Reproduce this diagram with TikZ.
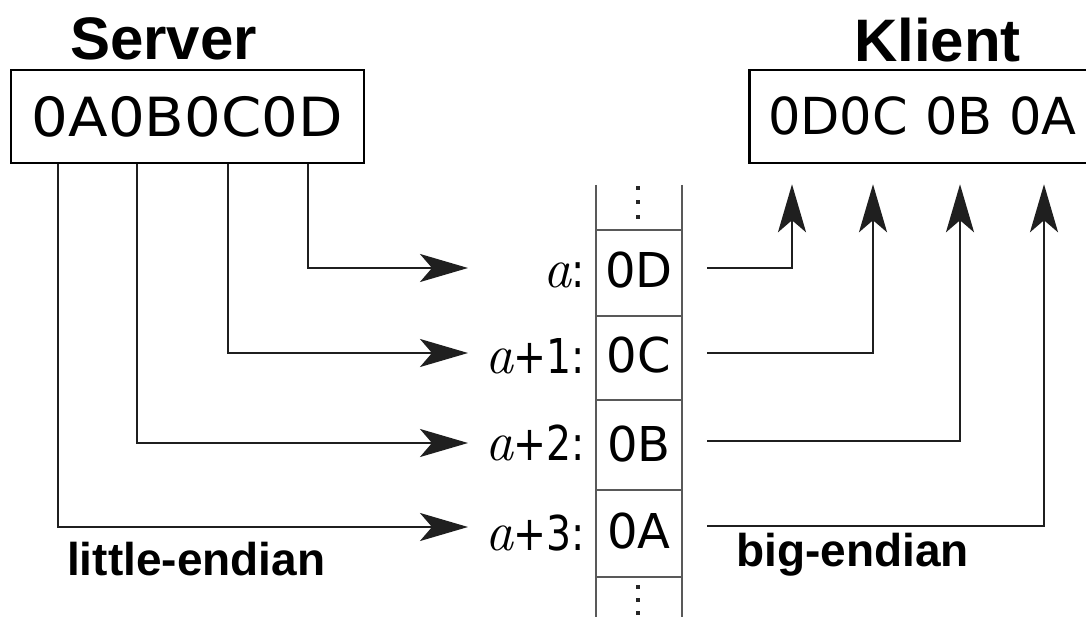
\documentclass[tikz,border=0pt]{standalone}
\usepackage{fontspec}
\usepackage{graphicx}
\usetikzlibrary{arrows.meta,calc}
\newfontfamily\dv{DejaVu Sans}
\newfontfamily\lib{Liberation Sans}
\newcommand{\avar}{{\rmfamily\itshape\fontsize{56}{60}\selectfont a}}
\newcommand{\narrow}[1]{\scalebox{0.82}[1]{#1}}
\begin{document}
\begin{tikzpicture}[x=1pt,y=-1pt,
  conn/.style={line width=2.5pt, draw=black!88, -{Stealth[length=48pt,width=28pt,inset=12pt]}},
  title/.style={font=\lib\bfseries\fontsize{60}{66}\selectfont, inner sep=0pt, anchor=base west},
  endian/.style={font=\lib\bfseries\fontsize{46}{52}\selectfont, inner sep=0pt, anchor=base west},
  regbox/.style={draw=black, line width=2.5pt, fill=white, minimum height=93pt, inner sep=0pt},
  kbyte/.style={font=\dv\fontsize{51}{56}\selectfont, inner sep=0pt, anchor=base west},
  cell/.style={font=\dv\fontsize{48}{54}\selectfont, inner sep=0pt},
  addr/.style={font=\dv\fontsize{48}{54}\selectfont, inner sep=0pt, anchor=base east},
  mem/.style={draw=black!65, line width=2pt}]
\useasboundingbox (0,0) rectangle (1086,617);
\clip (0,0) rectangle (1086,617);

% server
\node[title] (srvt) at (70,60) {Server};
\node[regbox, minimum width=353pt] (srv) at (187.5,116.5) {\dv\fontsize{54}{60}\selectfont\scalebox{1.07}[1]{0A0B0C0D}};

% client
\node[title] (klt) at (854,62) {Klient};
\node[regbox, minimum width=362pt, anchor=west] (kl) at (748,116.5) {};
\node[kbyte] (k1) at (768,135) {0D0C};
\node[kbyte] (k2) at (925,135) {0B};
\node[kbyte] (k3) at (1009,135) {0A};

% memory column
\draw[mem] (596,185) -- (596,617);
\draw[mem] (682,185) -- (682,617);
\foreach \yy in {230,316,400,490,577} \draw[mem] (596,\yy) -- (682,\yy);
\foreach \yy in {188,202,217,587,600,613} \fill[black!85] (636,\yy-2) rectangle ++(4,4);

\node[cell] (c1) at (639,270.5) {0D};
\node[cell] (c2) at (639,355) {0C};
\node[cell] (c3) at (639,444) {0B};
\node[cell] (c4) at (639,531) {0A};

\node[addr] (a1) at (585,288) {\avar\narrow{:}};
\node[addr] (a2) at (585,373) {\avar\narrow{+1:}};
\node[addr] (a3) at (585,460) {\avar\narrow{+2:}};
\node[addr] (a4) at (585,550) {\avar\narrow{+3:}};

% endian labels
\node[endian] (le) at (67,575) {little-endian};
\node[endian] (be) at (736,566) {big-endian};

% helper coordinates
\coordinate (x1) at (58,0);
\coordinate (x2) at (137,0);
\coordinate (x3) at (228,0);
\coordinate (x4) at (308,0);
\coordinate (t1) at (468,268);
\coordinate (t2) at (468,353);
\coordinate (t3) at (468,443);
\coordinate (t4) at (468,527);
\coordinate (r1) at (707,268);
\coordinate (r2) at (707,353);
\coordinate (r3) at (707,441);
\coordinate (r4) at (707,526);
\coordinate (u1) at (792,0);
\coordinate (u2) at (873,0);
\coordinate (u3) at (960,0);
\coordinate (u4) at (1044,0);

% server -> memory
\draw[conn] (srv.south -| x4) |- (t1);
\draw[conn] (srv.south -| x3) |- (t2);
\draw[conn] (srv.south -| x2) |- (t3);
\draw[conn] (srv.south -| x1) |- (t4);

% memory -> client
\draw[conn, shorten >=20pt] (r1) -| (kl.south -| u1);
\draw[conn, shorten >=20pt] (r2) -| (kl.south -| u2);
\draw[conn, shorten >=20pt] (r3) -| (kl.south -| u3);
\draw[conn, shorten >=20pt] (r4) -| (kl.south -| u4);
\end{tikzpicture}
\end{document}
